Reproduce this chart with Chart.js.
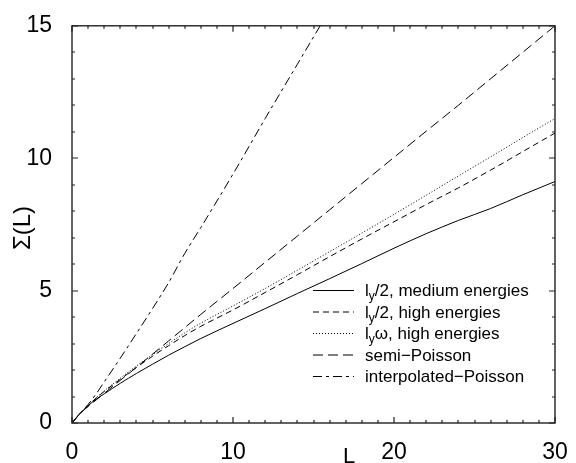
<!DOCTYPE html>
<html><head><meta charset="utf-8">
<script src="https://cdn.jsdelivr.net/npm/chart.js@4/dist/chart.umd.min.js"></script>
<style>html,body{margin:0;padding:0;background:#fff;}canvas{display:block;}</style>
</head><body>
<canvas id="c" width="576" height="463"></canvas>
<script>
// ---- data ----
const L = [0,0.5,1,1.5,2,3,4,5,6,7,8,10,12,14,16,18,20,22,24,26,28,30];
const halfMedium = [0,0.36,0.65,0.9,1.1,1.5,1.87,2.22,2.56,2.88,3.19,3.76,4.32,4.89,5.45,6.02,6.6,7.15,7.65,8.1,8.62,9.12];
const halfHigh   = [0,0.36,0.66,0.94,1.19,1.65,2.1,2.52,2.92,3.3,3.65,4.27,4.93,5.6,6.28,6.95,7.6,8.25,8.88,9.55,10.25,10.95];
const omegaHigh  = [0,0.36,0.66,0.95,1.21,1.69,2.15,2.58,3.0,3.4,3.77,4.42,5.08,5.77,6.47,7.17,7.88,8.6,9.33,10.05,10.78,11.5];
const semiPoisson= [0,0.36,0.62,0.87,1.12,1.61,2.1,2.6,3.1,3.6,4.1,5.08,6.07,7.06,8.05,9.04,10.03,11.02,12.0,13.0,14.0,15.0];
const Linterp = [0,0.5,1,1.5,2,3,4,5,6,7,8,10,12,14,16];
const interpPoisson = [0,0.36,0.7,1.1,1.55,2.45,3.38,4.32,5.3,6.4,7.38,9.4,11.5,13.55,15.6];
const seriesNames = [
  {pre:"l", sub:"y", post:"/2, medium energies"},
  {pre:"l", sub:"y", post:"/2, high energies"},
  {pre:"l", sub:"y", post:"\u03C9, high energies"},
  {pre:"semi\u2212Poisson", sub:"", post:""},
  {pre:"interpolated\u2212Poisson", sub:"", post:""}
];
const xTickValues = [0,10,20,30];
const yTickValues = [0,5,10,15];
const xTitle = "L";
const yTitle = "\u03A3(L)";

const FONT = "'Liberation Sans', Arial, Helvetica, sans-serif";
const pts = (xs, ys) => xs.map((x,i)=>({x:x, y:ys[i]}));
const dashes = [[], [6,4], [1,2], [10,5], [9,4,3,4]];
const seriesData = [pts(L,halfMedium), pts(L,halfHigh), pts(L,omegaHigh), pts(L,semiPoisson), pts(Linterp,interpPoisson)];

const datasets = seriesData.map((d,i)=>({
  label: seriesNames[i].pre + seriesNames[i].sub + seriesNames[i].post,
  data: d, borderColor:'#000', borderWidth:1, borderDash:dashes[i],
  pointRadius:0, fill:false, cubicInterpolationMode:'monotone'
}));

const framePlugin = {
  id:'frame',
  afterDatasetsDraw(chart){
    const {ctx, chartArea:a, scales:{x,y}} = chart;
    ctx.save();
    ctx.strokeStyle = '#222'; ctx.lineWidth = 1.4;
    ctx.strokeRect(a.left, a.top, a.right-a.left, a.bottom-a.top);
    ctx.lineWidth = 1.2;
    ctx.beginPath();
    for (let v = x.min; v <= x.max; v += 1) {
      const px = Math.round(x.getPixelForValue(v));
      const len = xTickValues.includes(v) ? 6 : 3;
      ctx.moveTo(px, a.bottom); ctx.lineTo(px, a.bottom-len);
      ctx.moveTo(px, a.top); ctx.lineTo(px, a.top+len);
    }
    for (let v = y.min; v <= y.max; v += 1) {
      const py = Math.round(y.getPixelForValue(v));
      const len = yTickValues.includes(v) ? 6 : 3;
      ctx.moveTo(a.left, py); ctx.lineTo(a.left+len, py);
      ctx.moveTo(a.right, py); ctx.lineTo(a.right-len, py);
    }
    ctx.stroke();
    // axis titles
    ctx.fillStyle = '#000';
    ctx.font = '22px ' + FONT;
    ctx.textAlign = 'center'; ctx.textBaseline = 'alphabetic';
    ctx.fillText(xTitle, 349, 463);
    ctx.save();
    ctx.font = '24px ' + FONT;
    ctx.translate(30, 228); ctx.rotate(-Math.PI/2);
    ctx.fillText(yTitle, 0, 0);
    ctx.restore();
    // legend
    const x0 = 313, x1 = 354, tx = 365;
    const rows = [290, 311.5, 333, 354.5, 376];
    chart.data.datasets.forEach((ds,i)=>{
      const ry = rows[i];
      ctx.setLineDash(ds.borderDash || []);
      ctx.lineWidth = 1; ctx.strokeStyle = '#000';
      ctx.beginPath(); ctx.moveTo(x0, ry+0.5); ctx.lineTo(x1, ry+0.5); ctx.stroke();
      ctx.setLineDash([]);
      const n = seriesNames[i];
      ctx.textAlign = 'left';
      ctx.font = '17px ' + FONT;
      let cx = tx;
      ctx.fillText(n.pre, cx, ry+6); cx += ctx.measureText(n.pre).width;
      if (n.sub) {
        ctx.font = '12px ' + FONT;
        ctx.fillText(n.sub, cx, ry+10); cx += ctx.measureText(n.sub).width;
        ctx.font = '17px ' + FONT;
      }
      ctx.fillText(n.post, cx, ry+6);
    });
    ctx.restore();
  }
};

new Chart(document.getElementById('c'), {
  type:'line',
  data:{datasets},
  options:{
    responsive:false, animation:false,
    layout:{padding:{top:21, right:21, left:0, bottom:0}},
    plugins:{legend:{display:false}, tooltip:{enabled:false}},
    scales:{
      x:{type:'linear', min:0, max:30,
         ticks:{stepSize:10, color:'#000', font:{size:23, family:FONT}, padding:8, maxRotation:0},
         grid:{display:false}, border:{display:false},
         afterFit(s){ s.height = 40; }},
      y:{type:'linear', min:0, max:15,
         ticks:{stepSize:5, color:'#000', font:{size:23, family:FONT}, padding:12},
         grid:{display:false}, border:{display:false},
         afterFit(s){ s.width = 72; }}
    }
  },
  plugins:[framePlugin]
});
</script>
</body></html>
